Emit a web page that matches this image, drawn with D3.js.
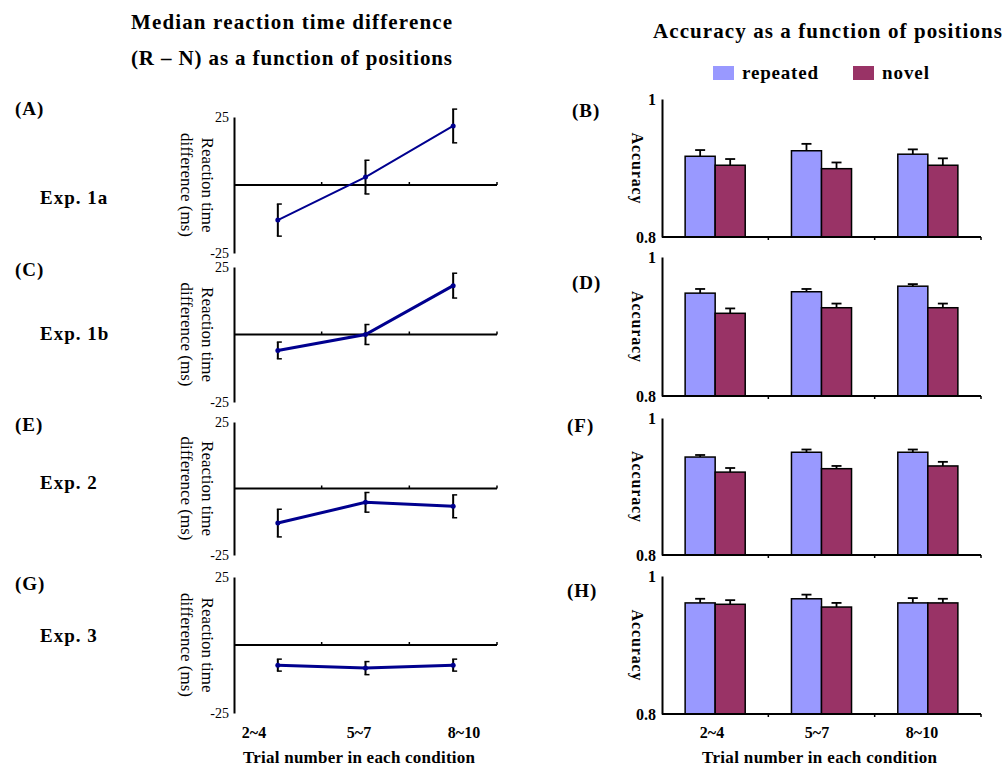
<!DOCTYPE html>
<html><head><meta charset="utf-8">
<script src="https://cdn.jsdelivr.net/npm/d3@7"></script>
<style>
body{margin:0;background:#fff}
svg{display:block}
text{font-family:"Liberation Serif","Times New Roman",serif;fill:#000}
</style>
</head><body>
<script>
// ---------- data ----------
const categories = ["2~4", "5~7", "8~10"];
const series = ["repeated", "novel"];
const rtTicks = [-25, 25];
const accTicks = [0.8, 1];
const accTickLabels = ["0.8", "1"];

// median RT difference (R - N), ms, with error
const rt1a = [-12.9, 2.9, 21.7];  const rt1aErr = [5.9, 6.2, 6.2];
const rt1b = [-5.9, 0.0, 18.1];   const rt1bErr = [3.1, 3.7, 4.6];
const rt2  = [-13.0, -5.2, -6.7]; const rt2Err  = [5.2, 3.7, 4.3];
const rt3  = [-7.4, -8.5, -7.4];  const rt3Err  = [2.2, 2.4, 2.2];

// accuracy
const acc1aRep = [0.917, 0.925, 0.920]; const acc1aRepErr = [0.009, 0.010, 0.007];
const acc1aNov = [0.904, 0.899, 0.904]; const acc1aNovErr = [0.009, 0.009, 0.010];
const acc1bRep = [0.948, 0.950, 0.958]; const acc1bRepErr = [0.006, 0.004, 0.003];
const acc1bNov = [0.919, 0.927, 0.927]; const acc1bNovErr = [0.007, 0.006, 0.006];
const acc2Rep  = [0.943, 0.950, 0.950]; const acc2RepErr  = [0.003, 0.004, 0.004];
const acc2Nov  = [0.921, 0.926, 0.930]; const acc2NovErr  = [0.006, 0.004, 0.006];
const acc3Rep  = [0.961, 0.967, 0.961]; const acc3RepErr  = [0.006, 0.006, 0.007];
const acc3Nov  = [0.959, 0.955, 0.961]; const acc3NovErr  = [0.006, 0.006, 0.006];

const leftLetters = ["(A)", "(C)", "(E)", "(G)"];
const rightLetters = ["(B)", "(D)", "(F)", "(H)"];
const expNames = ["Exp. 1a", "Exp. 1b", "Exp. 2", "Exp. 3"];

// ---------- assembled tables ----------
const rtMeans = [rt1a, rt1b, rt2, rt3];
const rtErrs = [rt1aErr, rt1bErr, rt2Err, rt3Err];
const accMeans = [
  {repeated: acc1aRep, novel: acc1aNov},
  {repeated: acc1bRep, novel: acc1bNov},
  {repeated: acc2Rep, novel: acc2Nov},
  {repeated: acc3Rep, novel: acc3Nov}];
const accErrs = [
  {repeated: acc1aRepErr, novel: acc1aNovErr},
  {repeated: acc1bRepErr, novel: acc1bNovErr},
  {repeated: acc2RepErr, novel: acc2NovErr},
  {repeated: acc3RepErr, novel: acc3NovErr}];

// ---------- layout ----------
const W = 1006, H = 767;
const svg = d3.select("body").append("svg").attr("width", W).attr("height", H);
const colors = d3.scaleOrdinal().domain(series).range(["#9999FF", "#993366"]);
const lineColor = "#00008F";

const leftTops = [117, 267, 422, 577], leftBottoms = [253, 402, 555, 713];
const rightTops = [99, 257, 418, 576], rightBottoms = [237, 396, 555, 714];
const letterBase = [115, 276, 431, 590];
const expBase = [204, 340, 489, 642];
const rLetterBase = [117, 289, 432, 597];
const rLetterX = [572, 572, 567, 567];

function label(g, txt, x, y, size, bold, len, anchor) {
  const t = g.append("text").attr("x", x).attr("y", y)
    .attr("font-size", size).attr("font-weight", bold ? "bold" : "normal")
    .attr("text-anchor", anchor || "start").text(txt);
  if (len) t.attr("textLength", len).attr("lengthAdjust", "spacing");
  return t;
}

// titles
label(svg, "Median reaction time difference", 131, 29, 21, true, 321);
label(svg, "(R \u2013 N) as a function of positions", 131, 65, 21, true, 321);
label(svg, "Accuracy as a function of positions", 653, 38, 21, true, 349);

// legend
const legX = d3.scalePoint().domain(series).range([713, 853]);
series.forEach(s => {
  svg.append("rect").attr("x", legX(s)).attr("y", 66).attr("width", 21).attr("height", 14)
    .attr("fill", colors(s));
  label(svg, s, legX(s) + 29, 79, 19, true, s === "repeated" ? 76 : 47);
});

// ---------- left: line charts ----------
const xL = d3.scaleBand().domain(categories).range([234, 497]);
rtMeans.forEach((means, i) => {
  const g = svg.append("g");
  const y = d3.scaleLinear().domain([-25, 25]).range([leftBottoms[i], leftTops[i]]);
  const errs = rtErrs[i];
  const cx = c => xL(c) + xL.bandwidth() / 2;

  label(g, leftLetters[i], 15, letterBase[i], 19, true, null).attr("letter-spacing", 1);
  label(g, expNames[i], 40, expBase[i], 19, true, null).attr("letter-spacing", 1);

  // y axis
  const ya = g.append("g").attr("transform", `translate(${xL.range()[0]},0)`)
    .call(d3.axisLeft(y).tickValues(rtTicks).tickSize(0).tickPadding(5).tickFormat(d => String(d)));
  ya.select(".domain").attr("stroke", "#000").attr("stroke-width", 2);
  ya.selectAll("text").attr("font-size", 14).attr("font-family", "Liberation Serif, serif");

  // zero line with ticks
  g.append("line").attr("x1", xL.range()[0]).attr("x2", xL.range()[1])
    .attr("y1", y(0)).attr("y2", y(0)).attr("stroke", "#000").attr("stroke-width", 2);
  categories.forEach(c => {
    const tx = xL(c) + xL.step();
    g.append("line").attr("x1", tx).attr("x2", tx).attr("y1", y(0)).attr("y2", y(0) - 3)
      .attr("stroke", "#000").attr("stroke-width", 1.5);
  });

  // y label
  g.append("text").attr("transform", `translate(202,${y(0)}) rotate(90)`)
    .attr("text-anchor", "middle").attr("font-size", 17).text("Reaction time");
  g.append("text").attr("transform", `translate(181,${y(0)}) rotate(90)`)
    .attr("text-anchor", "middle").attr("font-size", 17).text("difference (ms)");

  // line
  const line = d3.line().x((d, j) => cx(categories[j])).y(d => y(d));
  g.append("path").datum(means).attr("d", line).attr("fill", "none")
    .attr("stroke", lineColor).attr("stroke-width", i === 0 ? 2 : 3);

  // error bars
  means.forEach((m, j) => {
    const x = cx(categories[j]);
    const e = errs[j];
    g.append("line").attr("x1", x).attr("x2", x).attr("y1", y(m - e)).attr("y2", y(m + e))
      .attr("stroke", "#000").attr("stroke-width", 2);
    [m - e, m + e].forEach(v => {
      g.append("line").attr("x1", x - 1).attr("x2", x + 4).attr("y1", y(v)).attr("y2", y(v))
        .attr("stroke", "#000").attr("stroke-width", 1.5);
    });
    g.append("circle").attr("cx", x).attr("cy", y(m)).attr("r", 2.5).attr("fill", lineColor);
  });
});

// bottom axis labels (left)
const xLabL = d3.scalePoint().domain(categories).range([254, 464]);
categories.forEach(c => label(svg, c, xLabL(c), 738, 16, true, null, "middle"));
label(svg, "Trial number in each condition", 243, 763, 17, true, 232);

// ---------- right: bar charts ----------
const x0 = d3.scaleBand().domain(categories).range([662, 981]);
const x1 = d3.scaleBand().domain(series).range([0, x0.bandwidth()]).paddingOuter(0.77);
accMeans.forEach((means, i) => {
  const g = svg.append("g");
  const y = d3.scaleLinear().domain([0.8, 1]).range([rightBottoms[i], rightTops[i]]);
  const errs = accErrs[i];

  label(g, rightLetters[i], rLetterX[i], rLetterBase[i], 19, true, null).attr("letter-spacing", 1);

  categories.forEach((c, j) => {
    series.forEach(s => {
      const v = means[s][j], e = errs[s][j];
      const bx = x0(c) + x1(s), bw = x1.bandwidth();
      const mx = bx + bw / 2;
      g.append("line").attr("x1", mx).attr("x2", mx).attr("y1", y(v)).attr("y2", y(v + e))
        .attr("stroke", "#000").attr("stroke-width", 1.8);
      g.append("line").attr("x1", mx - 5).attr("x2", mx + 5).attr("y1", y(v + e)).attr("y2", y(v + e))
        .attr("stroke", "#000").attr("stroke-width", 1.8);
      g.append("rect").attr("x", bx).attr("y", y(v)).attr("width", bw).attr("height", y(0.8) - y(v))
        .attr("fill", colors(s)).attr("stroke", "#000").attr("stroke-width", 1.5);
    });
  });

  // axes
  const ya = g.append("g").attr("transform", `translate(${x0.range()[0]},0)`)
    .call(d3.axisLeft(y).tickValues(accTicks).tickSize(0).tickPadding(6)
      .tickFormat((d, k) => accTickLabels[k]));
  ya.select(".domain").attr("stroke", "#000").attr("stroke-width", 2);
  ya.selectAll("text").attr("font-size", 16).attr("font-weight", "bold")
    .attr("font-family", "Liberation Serif, serif");

  g.append("line").attr("x1", x0.range()[0]).attr("x2", x0.range()[1])
    .attr("y1", y(0.8)).attr("y2", y(0.8)).attr("stroke", "#000").attr("stroke-width", 2);
  categories.forEach(c => {
    const tx = x0(c) + x0.step();
    g.append("line").attr("x1", tx).attr("x2", tx).attr("y1", y(0.8)).attr("y2", y(0.8) + 3)
      .attr("stroke", "#000").attr("stroke-width", 1.5);
  });

  const cy = (y(0.8) + y(1)) / 2;
  g.append("text").attr("transform", `translate(632,${cy}) rotate(90)`)
    .attr("x", -35.5).attr("font-size", 16).attr("font-weight", "bold")
    .attr("textLength", 71).attr("lengthAdjust", "spacing").text("Accuracy");
});

const xLabR = d3.scalePoint().domain(categories).range([712, 922]);
categories.forEach(c => label(svg, c, xLabR(c), 738, 16, true, null, "middle"));
label(svg, "Trial number in each condition", 702, 763, 17, true, 235);
</script>
</body></html>
